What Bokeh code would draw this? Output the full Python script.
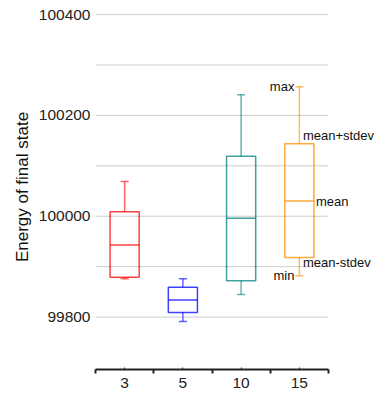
from bokeh.plotting import figure
from bokeh.models import Range1d, FixedTicker, ColumnDataSource, Label, NumeralTickFormatter
from bokeh.embed import file_html
from bokeh.resources import INLINE

categories = ["3", "5", "10", "15"]
maxs = [100069, 99876, 100241, 100257]
upper = [100009, 99859, 100119, 100144]
means = [99943, 99834, 99996, 100030]
lower = [99879, 99809, 99872, 99918]
mins = [99876, 99791, 99845, 99882]
colors = ["#ff0000", "#0000ff", "#008080", "#ff8c00"]
y_major = [99800, 100000, 100200, 100400]
y_minor = [99900, 100100, 100300]
stat_labels = ["max", "mean+stdev", "mean", "mean-stdev", "min"]

FONT = "Liberation Sans"

n = len(categories)
xs = [i + 0.5 for i in range(n)]
bw = 0.5
cw = 0.14
src = ColumnDataSource(dict(
    x=xs, left=[x - bw / 2 for x in xs], right=[x + bw / 2 for x in xs],
    cl=[x - cw / 2 for x in xs], cr=[x + cw / 2 for x in xs],
    maxs=maxs, upper=upper, means=means, lower=lower, mins=mins, color=colors,
))

# frame extends to the right edge so that the annotation texts are not clipped
p = figure(width=374, height=396, output_backend="svg", toolbar_location=None,
           x_range=Range1d(0, n * 279 / 233), y_range=Range1d(99696, 100420),
           min_border_left=95, min_border_right=0, min_border_top=4, min_border_bottom=27)
p.outline_line_color = None
p.background_fill_color = "white"
p.border_fill_color = "white"

# grid lines drawn over the category span only
p.xgrid.visible = False
p.ygrid.visible = False
gy = y_major + y_minor
p.segment(x0=[0] * len(gy), y0=gy, x1=[n] * len(gy), y1=gy,
          line_color="#cccccc", line_width=1, level="underlay")

# y axis
p.yaxis.ticker = FixedTicker(ticks=y_major, minor_ticks=y_minor)
p.yaxis.formatter = NumeralTickFormatter(format="0")
p.yaxis.axis_line_color = None
p.yaxis.major_tick_line_color = None
p.yaxis.minor_tick_line_color = None
p.yaxis.major_tick_in = 0
p.yaxis.major_tick_out = 0
p.yaxis.minor_tick_in = 0
p.yaxis.minor_tick_out = 0
p.yaxis.major_label_standoff = 5
p.yaxis.major_label_text_font = FONT
p.yaxis.major_label_text_font_size = "15.5px"
p.yaxis.major_label_text_color = "#222222"
p.yaxis.axis_label = "Energy of final state"
p.yaxis.axis_label_text_font = FONT
p.yaxis.axis_label_text_font_size = "17px"
p.yaxis.axis_label_text_font_style = "normal"
p.yaxis.axis_label_text_color = "#111111"
p.yaxis.axis_label_standoff = 4

# x axis
p.xaxis.ticker = FixedTicker(ticks=xs, minor_ticks=list(range(n + 1)))
p.xaxis.bounds = (0, n)
p.xaxis.major_label_overrides = {x: c for x, c in zip(xs, categories)}
p.xaxis.axis_line_color = "#222222"
p.xaxis.axis_line_width = 2
p.xaxis.major_tick_in = 2
p.xaxis.major_tick_out = 0
p.xaxis.major_tick_line_color = "#222222"
p.xaxis.minor_tick_in = 0
p.xaxis.minor_tick_out = 4
p.xaxis.minor_tick_line_color = "#222222"
p.xaxis.minor_tick_line_width = 2
p.xaxis.major_label_standoff = 4
p.xaxis.major_label_text_font = FONT
p.xaxis.major_label_text_font_size = "15.5px"
p.xaxis.major_label_text_color = "#222222"

A = 0.75
# whiskers
for y0, y1 in (("upper", "maxs"), ("lower", "mins")):
    p.segment(x0="x", y0=y0, x1="x", y1=y1, source=src, line_color="color", line_alpha=0.6, line_width=1.5)
for yc in ("maxs", "mins"):
    p.segment(x0="cl", y0=yc, x1="cr", y1=yc, source=src, line_color="color", line_alpha=0.6, line_width=1.5)
# boxes
p.quad(left="left", right="right", bottom="lower", top="upper", source=src,
       fill_color=None, line_color="color", line_alpha=A, line_width=1.5)
p.segment(x0="left", y0="means", x1="right", y1="means", source=src, line_color="color", line_alpha=A, line_width=1.5)

# annotations for last box
i = n - 1
vals = [maxs[i], upper[i], means[i], lower[i], mins[i]]
ann_x = [xs[i], xs[i], xs[i] + bw / 2, xs[i], xs[i]]
aligns = ["right", "left", "left", "left", "right"]
baselines = ["middle", "bottom", "middle", "top", "middle"]
xoffs = [-5, 3.5, 2, 3.5, -5]
yoffs = [0, 1, 0, 3, 0]
for t, xx, yy, al, bl, xo, yo in zip(stat_labels, ann_x, vals, aligns, baselines, xoffs, yoffs):
    p.add_layout(Label(x=xx, y=yy, text=t, x_offset=xo, y_offset=yo,
                       text_align=al, text_baseline=bl, text_font=FONT,
                       text_font_size="13px", text_color="#111111", level="overlay"))

open("out.html", "w").write(file_html(p, INLINE))
